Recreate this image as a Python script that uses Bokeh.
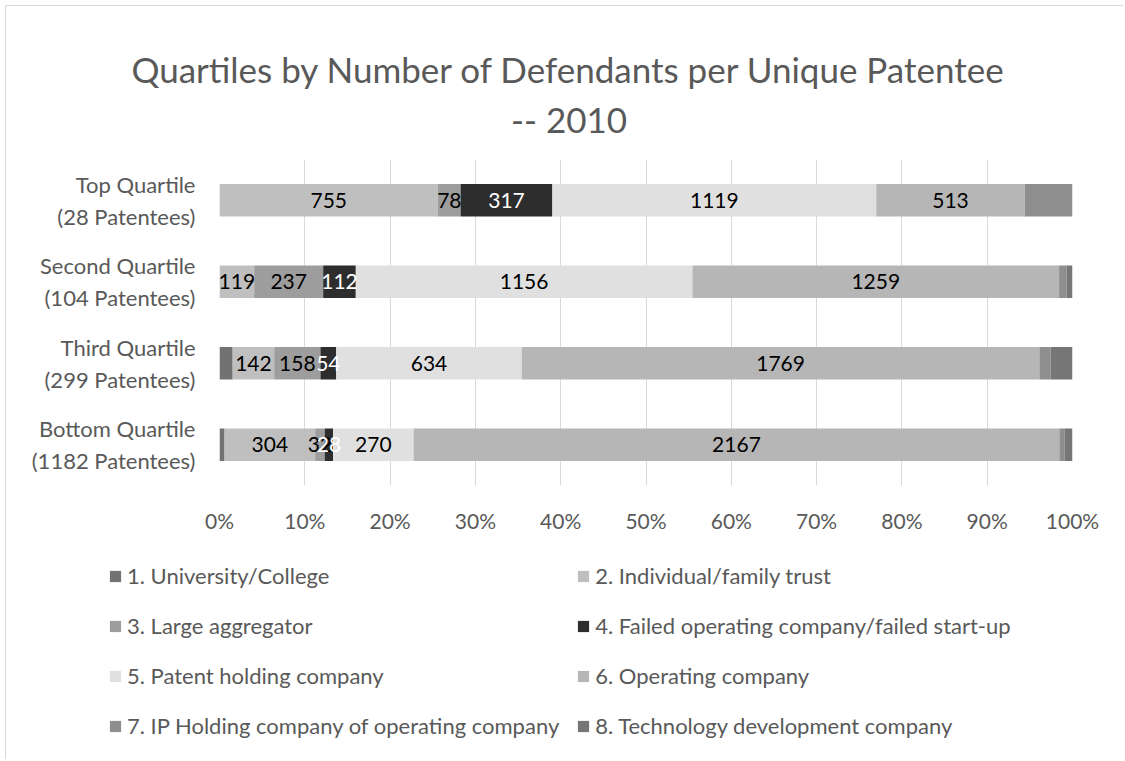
import numpy as np
from bokeh.plotting import figure
from bokeh.layouts import column
from bokeh.models import (ColumnDataSource, FactorRange, Range1d, NumeralTickFormatter,
                          FixedTicker, Legend, LegendItem, Label)
from bokeh.core.properties import value
from bokeh.embed import file_html
from bokeh.resources import INLINE

# ---------------- data ----------------
title_lines = ["Quartiles by Number of Defendants per Unique Patentee", "-- 2010"]
quartiles = ["Top Quartile\n(28 Patentees)", "Second Quartile\n(104 Patentees)",
             "Third Quartile\n(299 Patentees)", "Bottom Quartile\n(1182 Patentees)"]
series = ["1. University/College", "2. Individual/family trust", "3. Large aggregator",
          "4. Failed operating company/failed start-up", "5. Patent holding company",
          "6. Operating company", "7. IP Holding company of operating company",
          "8. Technology development company"]
university = [0, 0, 45, 17]
individual = [755, 119, 142, 304]
aggregator = [78, 237, 158, 32]
failed = [317, 112, 54, 28]
holding = [1119, 1156, 634, 270]
operating = [513, 1259, 1769, 2167]
ip_holding = [165, 26, 38, 17]
technology = [0, 20, 75, 27]
labelled = [False, True, True, True, True, True, False, False]
x_ticks = [0, 0.1, 0.2, 0.3, 0.4, 0.5, 0.6, 0.7, 0.8, 0.9, 1.0]

# ---------------- styles ----------------
colors = ["#727272", "#bfbfbf", "#9d9d9d", "#2d2d2d", "#e0e0e0", "#b6b6b6", "#8e8e8e", "#767676"]
label_colors = ["#000000", "#000000", "#000000", "#ffffff", "#000000", "#000000", "#000000", "#000000"]
FONT = "Lato"
GREY = "#595959"
W = 1117


def blank_figure(height):
    f = figure(width=W, height=height, output_backend="svg", toolbar_location=None,
               title=None, min_border=0, x_axis_location=None, y_axis_location=None,
               x_range=Range1d(0, W), y_range=Range1d(0, height))
    f.grid.visible = False
    f.outline_line_color = None
    if "frame_align" in f.properties():
        f.frame_align = False
    return f


counts = np.array([university, individual, aggregator, failed, holding, operating,
                   ip_holding, technology], dtype=float)
totals = counts.sum(axis=0)
shares = counts / totals

keys = [f"s{i}" for i in range(len(series))]
data = {"y": quartiles}
for k, row in zip(keys, shares):
    data[k] = list(row)
src = ColumnDataSource(data)

# ---------------- title ----------------
tf = blank_figure(134)
tf.add_layout(Label(x=562.5, y=72, text=title_lines[0], text_align="center",
                    text_baseline="alphabetic", text_font=FONT, text_font_size="35px",
                    text_color=GREY))
tf.add_layout(Label(x=562.5, y=22, text=title_lines[1], text_align="center",
                    text_baseline="alphabetic", text_font=FONT, text_font_size="35px",
                    text_color=GREY))

# ---------------- main chart ----------------
p = figure(width=W, height=400, output_backend="svg", toolbar_location=None, title=None,
           x_range=Range1d(0, 1), y_range=FactorRange(factors=list(reversed(quartiles))),
           min_border_left=213, min_border_right=51, min_border_top=19, min_border_bottom=55)
p.outline_line_color = None

renderers = p.hbar_stack(keys, y="y", height=0.4, fill_color=colors, line_color=None, source=src)

lx, ly, lt, lc = [], [], [], []
cum = np.zeros(len(quartiles))
for i in range(len(series)):
    for j in range(len(quartiles)):
        if labelled[i] and counts[i, j] > 0:
            lx.append(cum[j] + shares[i, j] / 2)
            ly.append(quartiles[j])
            lt.append(str(int(counts[i, j])))
            lc.append(label_colors[i])
    cum += shares[i]
lsrc = ColumnDataSource(dict(x=lx, y=ly, text=lt, color=lc))
p.text(x="x", y="y", text="text", text_color="color", source=lsrc,
       text_align="center", text_baseline="middle", text_font=value(FONT),
       text_font_size="21px")

p.xaxis.ticker = FixedTicker(ticks=x_ticks)
p.xaxis.formatter = NumeralTickFormatter(format="0%")
p.xaxis.axis_line_color = None
p.xaxis.major_tick_line_color = None
p.xaxis.minor_tick_line_color = None
p.xaxis.major_tick_out = 0
p.xaxis.major_label_standoff = 22
p.xaxis.major_label_text_font = FONT
p.xaxis.major_label_text_font_size = "21px"
p.xaxis.major_label_text_color = GREY

p.yaxis.axis_line_color = None
p.yaxis.major_tick_line_color = None
p.yaxis.major_tick_out = 0
p.yaxis.major_label_standoff = 24
p.yaxis.major_label_text_font = FONT
p.yaxis.major_label_text_font_size = "22px"
p.yaxis.major_label_text_color = GREY

p.xgrid.ticker = FixedTicker(ticks=x_ticks)
p.xgrid.grid_line_color = "#d9d9d9"
p.xgrid.grid_line_width = 1
p.ygrid.grid_line_color = None

# ---------------- legend ----------------
lf = blank_figure(219)
# zero-size proxy glyphs: they only supply the legend swatches
proxies = [lf.hbar(y=[0], left=[0], right=[0], height=0, fill_color=c, line_color=None)
           for c in colors]
items = [LegendItem(label=s, renderers=[r]) for s, r in zip(series, proxies)]
legend = Legend(items=items, location=(102, 17), orientation="horizontal", ncols=2,
                glyph_width=14, glyph_height=14, label_standoff=5, spacing=17,
                label_height=33, padding=0, margin=0, border_line_color=None,
                background_fill_alpha=0, label_text_font=FONT, label_text_font_size="22px",
                label_text_color=GREY)
lf.add_layout(legend, "center")

layout = column(tf, p, lf, spacing=0)
layout.styles = {"margin-left": "5px", "margin-top": "5px",
                 "border-top": "1px solid #d9d9d9", "border-left": "1px solid #d9d9d9"}

open("out.html", "w").write(file_html(layout, INLINE))
